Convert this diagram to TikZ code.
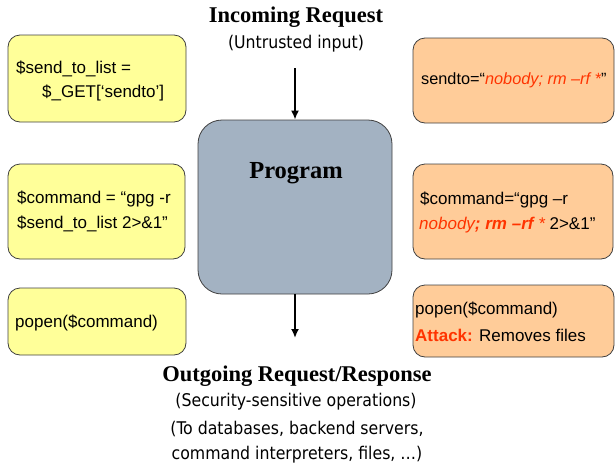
\documentclass[tikz,border=0pt]{standalone}
\usepackage{fontspec}
\setmainfont{Liberation Serif}
\newfontfamily\arial{Liberation Sans}
\newfontfamily\tahoma{DejaVu Sans Condensed}
\usetikzlibrary{arrows.meta}
\definecolor{ybox}{HTML}{FFFF99}
\definecolor{obox}{HTML}{FFCC99}
\definecolor{gbox}{HTML}{A3B2C2}
\definecolor{attack}{HTML}{FF3300}
\begin{document}
\begin{tikzpicture}[x=1pt,y=-1pt,
  box/.style={draw=black!75, line width=0.8pt, rounded corners=12pt},
  ytext/.style={font=\arial\fontsize{17}{23}\selectfont, anchor=west, align=left, inner sep=0pt},
  smalltext/.style={font=\arial\fontsize{16.3}{23}\selectfont, anchor=west, align=left, inner sep=0pt},
  title/.style={font=\bfseries\fontsize{22.5}{24}\selectfont, inner sep=0pt},
  sub/.style={font=\tahoma\fontsize{17.5}{26}\selectfont, inner sep=0pt},
  flow/.style={line width=1.8pt, -{Latex[length=9pt,width=8pt]}}]
\useasboundingbox (0,0) rectangle (616,469);
% left boxes
\draw[box, fill=ybox] (8,35) rectangle (186,122);
\draw[box, fill=ybox] (8,164) rectangle (185,259);
\draw[box, fill=ybox] (8,288) rectangle (186,355);
% right boxes
\draw[box, fill=obox] (413,38) rectangle (614,123);
\draw[box, fill=obox] (413,164) rectangle (613,259);
\draw[box, fill=obox] (413,285) rectangle (614,357);
% program
\node[draw=black!75, line width=0.8pt, fill=gbox, rounded corners=24pt, minimum width=194pt, minimum height=174pt, inner sep=0pt] (prog) at (295,207) {};
\node[font=\bfseries\fontsize{24.5}{26}\selectfont, inner sep=0pt] (progt) at (296,173) {Program};
% titles
\node[title] (inT) at (296,17) {Incoming Request};
\node[sub] (inS) at (296,44) {(Untrusted input)};
\coordinate (inStart) at (295,68);
\draw[flow] (inStart) -- (prog.north);
\node[title] (outT) at (297,376) {Outgoing Request/Response};
\node[sub] (outS1) at (296,402) {(Security-sensitive operations)};
\node[sub] (outS2) at (297,429) {(To databases, backend servers,};
\node[sub] (outS3) at (297,455) {command interpreters, files, \ldots)};
\coordinate (outEnd) at (295,338);
\draw[flow] (prog.south) -- (outEnd);
% left texts
\node[ytext] (l1a) at (16,69) {\$send\_to\_list =};
\node[ytext] (l1b) at (42,93) {\$\_GET[‘sendto’]};
\node[ytext] (l2a) at (17,199) {\$command = “gpg -r};
\node[ytext] (l2b) at (17,224) {\$send\_to\_list 2>\&1”};
\node[ytext] (l3) at (15,323) {popen(\$command)};
% right texts
\node[smalltext] (r1) at (421,80) {sendto=“\textcolor{attack}{\itshape nobody; rm –rf *}”};
\node[ytext] (r2a) at (420,200) {\$command=“gpg –r};
\node[ytext] (r2b) at (419,225) {\textcolor{attack}{\itshape nobody\bfseries; rm –rf \mdseries *} 2>\&1”};
\node[ytext] (r3a) at (415,310) {popen(\$command)};
\node[ytext] (r3b) at (415,335) {\textcolor{attack}{\bfseries Attack:} Removes files};
\end{tikzpicture}
\end{document}
